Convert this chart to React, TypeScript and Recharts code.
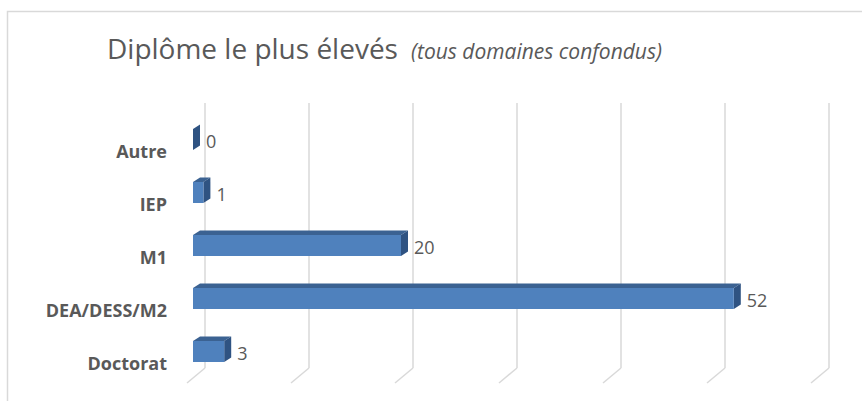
import React from 'react';
import { BarChart, Bar, XAxis, YAxis, CartesianGrid, LabelList } from 'recharts';

const categories = ['Autre', 'IEP', 'M1', 'DEA/DESS/M2', 'Doctorat'];
const values = [0, 1, 20, 52, 3];
const xTicks = [0, 10, 20, 30, 40, 50, 60];

const data = categories.map((name, i) => ({ name, value: values[i] }));

const FRONT = '#4f81bd';
const TOP = '#3b6292';
const SIDE = '#2f5382';
const GRID = '#d9d9d9';
const TEXT = '#595959';
const FONT = '"Open Sans", sans-serif';

// 3d depth of the bars and of the back wall
const DX = 7;
const DY = 4.5;

const Bar3D = (props: any) => {
  const { x, y, width, height } = props;
  const w = Math.max(0, width);
  return (
    <g>
      <polygon
        points={`${x},${y} ${x + DX},${y - DY} ${x + w + DX},${y - DY} ${x + w},${y}`}
        fill={TOP}
      />
      <polygon
        points={`${x + w},${y} ${x + w + DX},${y - DY} ${x + w + DX},${y + height - DY} ${x + w},${y + height}`}
        fill={SIDE}
      />
      {w > 0 && <rect x={x} y={y} width={w} height={height} fill={FRONT} />}
    </g>
  );
};

const gridLine = (props: any) => {
  const { x1, y1, y2 } = props;
  return (
    <g key={props.key ?? `g-${x1}`}>
      <line x1={x1 + 12} y1={y1 - 10} x2={x1 + 12} y2={y2 - 10} stroke={GRID} strokeWidth={1.5} />
      <line x1={x1 + 12} y1={y2 - 10} x2={x1 - 6} y2={y2 + 5} stroke={GRID} strokeWidth={1.5} />
    </g>
  );
};

const CategoryTick = (props: any) => {
  const { x, y, payload } = props;
  return (
    <text x={x} y={y + 11} textAnchor="end" dominantBaseline="central" fill={TEXT}
      fontFamily={FONT} fontWeight="bold" fontSize={18}>
      {payload.value}
    </text>
  );
};

const ValueLabel = (props: any) => {
  const { x, y, width, height, value } = props;
  return (
    <text x={x + width + 13} y={y + height / 2 + 1.5} dominantBaseline="central" fill={TEXT}
      fontFamily={FONT} fontSize={18}>
      {value}
    </text>
  );
};

export default function App() {
  return (
    <div style={{ position: 'relative', width: 862, height: 401, overflow: 'hidden', background: '#fff' }}>
      <style>{'body{margin:0}'}</style>
      <svg width={862} height={401} style={{ position: 'absolute', left: 0, top: 0 }}>
        <rect x={7.5} y={11.5} width={900} height={500} fill="none" stroke={GRID} strokeWidth={1.5} />
        <text x={107} y={59} fill={TEXT} fontFamily={FONT} fontSize={28}>
          Diplôme le plus élevés
        </text>
        <text x={411} y={59} fill={TEXT} fontFamily={FONT} fontSize={21} fontStyle="italic">
          (tous domaines confondus)
        </text>
      </svg>
      <div style={{ position: 'absolute', left: 0, top: 0 }}>
        <BarChart width={862} height={401} data={data} layout="vertical"
          margin={{ top: 113, right: 45, bottom: 23, left: 8 }} barSize={21}>
          <CartesianGrid horizontal={false} vertical={gridLine} />
          <XAxis type="number" domain={[0, 60]} ticks={xTicks} hide />
          <YAxis type="category" dataKey="name" width={185} axisLine={false} tickLine={false}
            tickMargin={20} tick={<CategoryTick />} interval={0} />
          <Bar dataKey="value" shape={<Bar3D />} isAnimationActive={false}>
            <LabelList dataKey="value" content={<ValueLabel />} />
          </Bar>
        </BarChart>
      </div>
    </div>
  );
}
